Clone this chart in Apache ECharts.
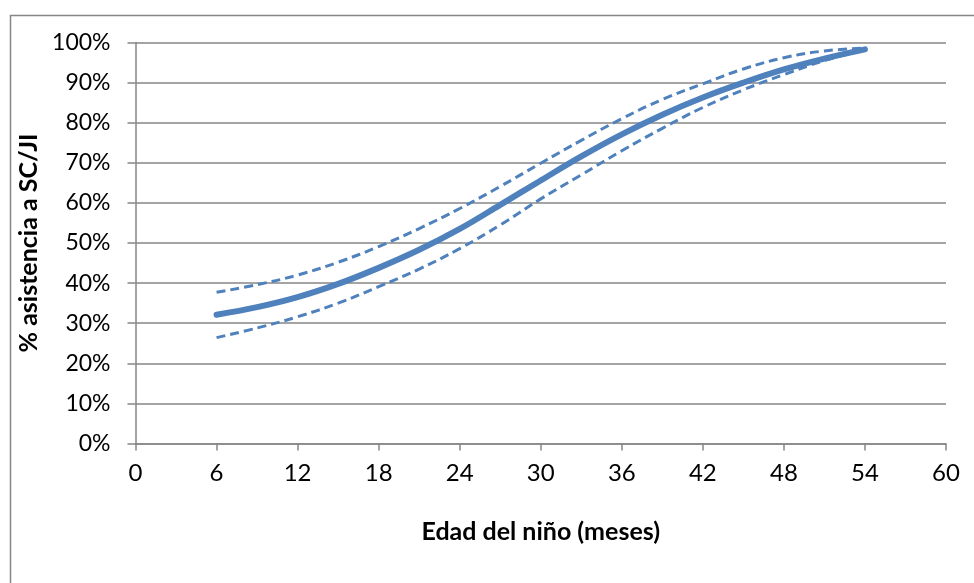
<!DOCTYPE html>
<html>
<head>
<meta charset="utf-8">
<script src="https://cdn.jsdelivr.net/npm/echarts@6/dist/echarts.min.js"></script>
<style>
html,body{margin:0;padding:0;background:#fff;}
#chart{width:974px;height:583px;}
</style>
</head>
<body>
<div id="chart"></div>
<script>
const months = [6, 9, 12, 15, 18, 21, 24, 27, 30, 33, 36, 39, 42, 45, 48, 51, 54];
const mainValues  = [32.1, 34.0, 36.5, 39.8, 43.8, 48.3, 53.5, 59.5, 65.6, 71.6, 77.1, 82.0, 86.3, 90.0, 93.3, 96.0, 98.3];
const upperValues = [37.7, 39.6, 42.0, 45.2, 49.1, 53.6, 58.6, 64.1, 69.9, 75.6, 81.0, 85.8, 89.7, 93.4, 96.2, 97.9, 98.6];
const lowerValues = [26.4, 28.8, 31.6, 35.0, 39.1, 43.5, 48.6, 54.5, 61.0, 67.0, 73.0, 78.6, 83.8, 88.2, 92.0, 95.5, 98.1];
const xTitle = 'Edad del niño (meses)';
const yTitle = '% asistencia a SC/JI';

const pairs = vals => months.map((m, i) => [m, vals[i]]);
const blue = '#4F81BD';
const gray = '#868686';
const font = 'Lato, "Liberation Sans", sans-serif';

const chart = echarts.init(document.getElementById('chart'), null, {renderer: 'canvas'});
chart.setOption({
  animation: false,
  backgroundColor: '#fff',
  graphic: [{
    type: 'rect', left: 8, top: 13,
    shape: {width: 1000, height: 600},
    style: {fill: 'none', stroke: gray, lineWidth: 1.5},
    z: -1
  }],
  grid: {left: 135.5, right: 28, top: 42.5, bottom: 139.5, containLabel: false},
  xAxis: {
    type: 'value', min: 0, max: 60, interval: 6,
    name: xTitle, nameLocation: 'middle', nameGap: 76,
    nameTextStyle: {fontFamily: font, fontSize: 25, fontWeight: 'bold', color: '#000'},
    axisLine: {show: true, onZero: false, lineStyle: {color: gray, width: 1.5}},
    axisTick: {show: true, length: 7, inside: false, lineStyle: {color: gray, width: 1.5}},
    axisLabel: {fontFamily: font, fontSize: 24, color: '#000', margin: 18},
    splitLine: {show: false}
  },
  yAxis: {
    type: 'value', min: 0, max: 100, interval: 10,
    name: yTitle, nameLocation: 'middle', nameGap: 90, nameRotate: 90,
    nameTextStyle: {fontFamily: font, fontSize: 25, fontWeight: 'bold', color: '#000'},
    axisLine: {show: true, lineStyle: {color: gray, width: 1.5}},
    axisTick: {show: true, length: 8, inside: false, lineStyle: {color: gray, width: 1.5}},
    axisLabel: {fontFamily: font, fontSize: 23, color: '#000', margin: 25, formatter: '{value}%'},
    splitLine: {show: true, lineStyle: {color: gray, width: 1.5}}
  },
  series: [
    {
      name: 'upper', type: 'line', data: pairs(upperValues), smooth: 0.4,
      symbol: 'none', lineStyle: {color: blue, width: 3, type: [9, 5]}, z: 3
    },
    {
      name: 'lower', type: 'line', data: pairs(lowerValues), smooth: 0.4,
      symbol: 'none', lineStyle: {color: blue, width: 3, type: [9, 5]}, z: 3
    },
    {
      name: 'main', type: 'line', data: pairs(mainValues), smooth: 0.4,
      symbol: 'none', lineStyle: {color: blue, width: 6, cap: 'round'}, z: 4
    }
  ]
});
</script>
</body>
</html>
